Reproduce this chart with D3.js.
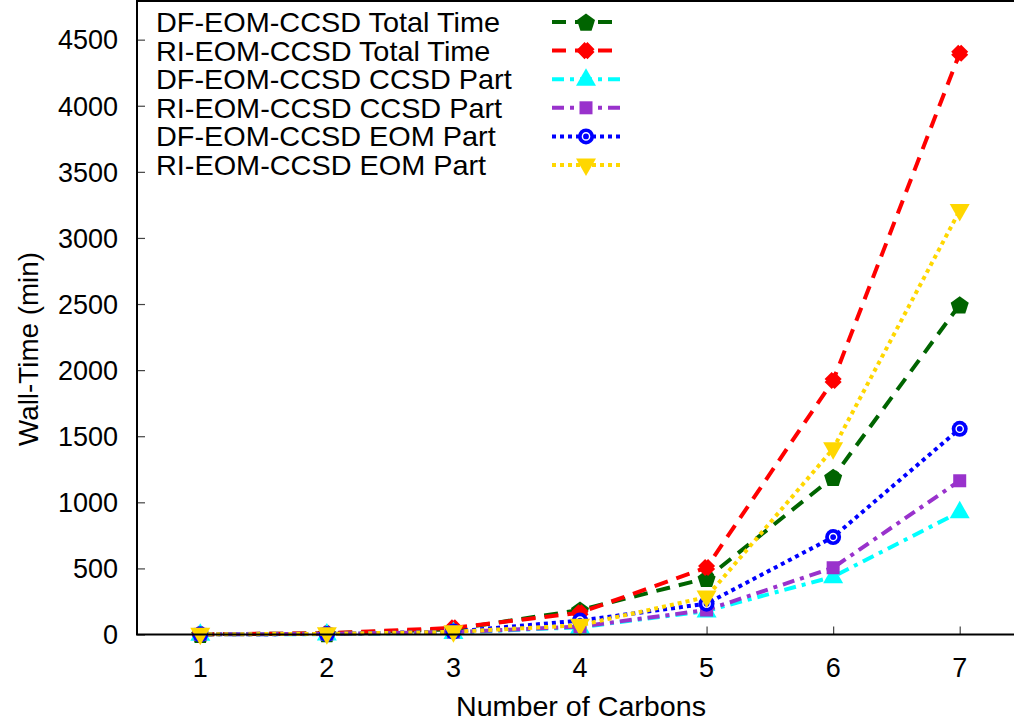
<!DOCTYPE html>
<html>
<head>
<meta charset="utf-8">
<script src="https://cdn.jsdelivr.net/npm/d3@7"></script>
<style>
  html, body { margin: 0; padding: 0; background: #fff; }
  svg { display: block; font-family: "Liberation Sans", Arial, Helvetica, sans-serif; }
</style>
</head>
<body>
<svg id="chart" width="1014" height="726"></svg>
<script>
// Wall-time of the EOM-CCSD runs against molecule size
const carbons = [1, 2, 3, 4, 5, 6, 7];
const xTicks = [1, 2, 3, 4, 5, 6, 7];
const yTicks = [0, 500, 1000, 1500, 2000, 2500, 3000, 3500, 4000, 4500];

const dfTotal = [2, 8, 40, 185, 425, 1190, 2495];
const riTotal = [2, 9, 50, 165, 507, 1921, 4397];
const dfCcsd  = [1, 3, 15, 55, 178, 437, 928];
const riCcsd  = [1, 4, 18, 60, 185, 505, 1163];
const dfEom   = [1, 4, 22, 105, 233, 737, 1556];
const riEom   = [1, 5, 20, 70, 283, 1405, 3207];

const seriesNames = [
  "DF-EOM-CCSD Total Time",
  "RI-EOM-CCSD Total Time",
  "DF-EOM-CCSD CCSD Part",
  "RI-EOM-CCSD CCSD Part",
  "DF-EOM-CCSD EOM Part",
  "RI-EOM-CCSD EOM Part"
];
const seriesValues = [dfTotal, riTotal, dfCcsd, riCcsd, dfEom, riEom];
const seriesColors = ["#006400", "#ff0000", "#00ffff", "#9932cc", "#0000ff", "#ffd700"];
const seriesDash = ["14,9", "14,9", "12,6,4,6", "12,6,4,6", "4,4", "4,4"];
const seriesMarker = ["pentagon", "cross", "triUp", "square", "ring", "triDown"];

const svg = d3.select("#chart");
const plot = { left: 137, right: 1023, top: 1, bottom: 634.5 };

const x = d3.scaleLinear().domain([0.5, 7.5]).range([plot.left, plot.right]);
const y = d3.scaleLinear().domain([0, 4800]).range([plot.bottom, 0]);

// axes with inward ticks
const yAxis = d3.axisRight(y).tickValues(yTicks).tickSize(8).tickFormat("");
const xAxis = d3.axisTop(x).tickValues(xTicks).tickSize(8).tickFormat("");

const gy = svg.append("g").attr("transform", `translate(${plot.left},0)`).call(yAxis);
const gx = svg.append("g").attr("transform", `translate(0,${plot.bottom})`).call(xAxis);
[gy, gx].forEach(g => {
  g.select(".domain").remove();
  g.selectAll(".tick line").attr("stroke", "#444").attr("stroke-width", 1.2);
});

// tick labels
svg.append("g").selectAll("text").data(yTicks).join("text")
  .attr("x", 118).attr("y", d => y(d) + 9.8)
  .attr("text-anchor", "end").attr("font-size", 27).attr("fill", "#000")
  .text(d => d);
svg.append("g").selectAll("text").data(xTicks).join("text")
  .attr("x", d => x(d)).attr("y", 677)
  .attr("text-anchor", "middle").attr("font-size", 27).attr("fill", "#000")
  .text(d => d);

// axis titles
svg.append("text")
  .attr("x", 581).attr("y", 716)
  .attr("text-anchor", "middle").attr("font-size", 28)
  .attr("textLength", 250).attr("lengthAdjust", "spacingAndGlyphs")
  .text("Number of Carbons");
svg.append("text")
  .attr("transform", "translate(38,349) rotate(-90)")
  .attr("text-anchor", "middle").attr("font-size", 28)
  .attr("textLength", 194).attr("lengthAdjust", "spacingAndGlyphs")
  .text("Wall-Time (min)");

// marker shapes
function drawMarker(g, kind, color) {
  switch (kind) {
    case "pentagon": {
      const r = 9.5;
      const pts = d3.range(5).map(i => {
        const a = -Math.PI / 2 + i * 2 * Math.PI / 5;
        return [r * Math.cos(a), r * Math.sin(a) + 1];
      });
      g.append("polygon").attr("points", pts.map(p => p.join(",")).join(" ")).attr("fill", color);
      break;
    }
    case "cross":
      g.append("path").attr("d", "M-5,-5L5,5M-5,5L5,-5")
        .attr("stroke", color).attr("stroke-width", 10).attr("fill", "none");
      break;
    case "triUp":
      g.append("polygon").attr("points", "0,-11 10,6.5 -10,6.5").attr("fill", color);
      break;
    case "triDown":
      g.append("polygon").attr("points", "0,11 10,-6.5 -10,-6.5").attr("fill", color);
      break;
    case "square":
      g.append("rect").attr("x", -6.5).attr("y", -6.5).attr("width", 13).attr("height", 13).attr("fill", color);
      break;
    case "ring":
      g.append("circle").attr("r", 8).attr("fill", color);
      g.append("circle").attr("r", 3.6).attr("fill", "none").attr("stroke", "#fff").attr("stroke-width", 1.4);
      break;
  }
}

// series: line first, then its points
const line = d3.line().x((d, i) => x(carbons[i])).y(d => y(d));
seriesValues.forEach((vals, k) => {
  const g = svg.append("g");
  g.append("path").datum(vals)
    .attr("d", line)
    .attr("fill", "none")
    .attr("stroke", seriesColors[k])
    .attr("stroke-width", 4)
    .attr("stroke-dasharray", seriesDash[k]);
  vals.forEach((v, i) => {
    const m = g.append("g").attr("transform", `translate(${x(carbons[i])},${y(v)})`);
    drawMarker(m, seriesMarker[k], seriesColors[k]);
  });
});

// legend: entries are stretched slightly wider than the font's natural width
const legend = svg.append("g");
seriesNames.forEach((name, k) => {
  const cy = 22 + k * 28.6;
  const t = legend.append("text")
    .attr("x", 156).attr("y", cy + 10)
    .attr("font-size", 28).attr("fill", "#000")
    .text(name);
  const w = t.node().getComputedTextLength();
  t.attr("textLength", w * 1.03).attr("lengthAdjust", "spacingAndGlyphs");
  legend.append("line")
    .attr("x1", 552).attr("x2", 620).attr("y1", cy).attr("y2", cy)
    .attr("stroke", seriesColors[k]).attr("stroke-width", 4)
    .attr("stroke-dasharray", seriesDash[k]);
  const m = legend.append("g").attr("transform", `translate(586,${cy})`);
  drawMarker(m, seriesMarker[k], seriesColors[k]);
});

// plot frame
svg.append("rect")
  .attr("x", plot.left).attr("y", plot.top)
  .attr("width", plot.right - plot.left).attr("height", plot.bottom - plot.top)
  .attr("fill", "none").attr("stroke", "#000").attr("stroke-width", 2);
</script>
</body>
</html>
